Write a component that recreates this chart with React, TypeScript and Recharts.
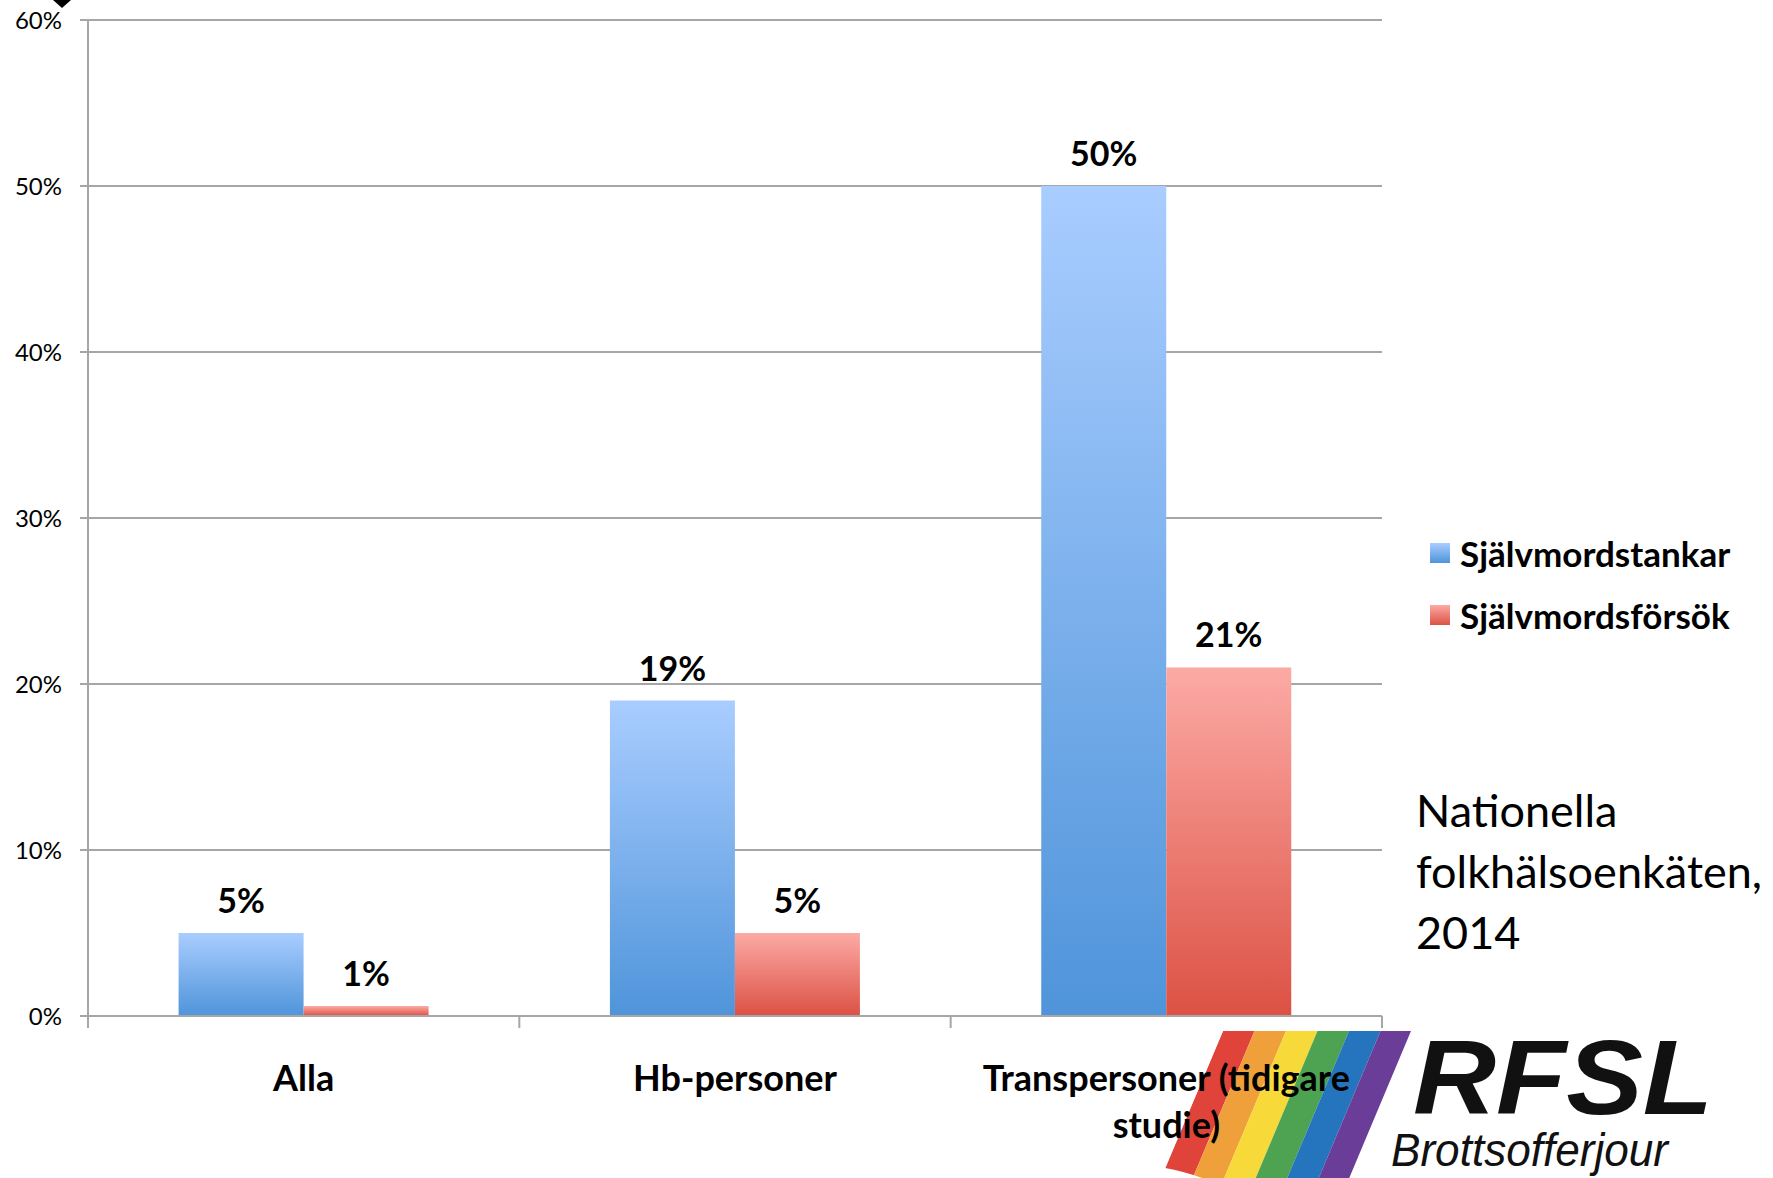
import React from 'react';
import { BarChart, Bar, XAxis, YAxis, CartesianGrid, LabelList } from 'recharts';

const categories = ['Alla', 'Hb-personer', 'Transpersoner (tidigare studie)'];
const tankar = [5, 19, 50];
const forsok = [0.6, 5, 21];
const yTicks = [0, 10, 20, 30, 40, 50, 60];
const seriesNames = ['Självmordstankar', 'Självmordsförsök'];
const sourceLines = ['Nationella', 'folkhälsoenkäten,', '2014'];

const data = categories.map((c, i) => ({ name: c, tankar: tankar[i], forsok: forsok[i] }));

const W = 1773;
const H = 1178;
const PLOT_LEFT = 88;
const PLOT_RIGHT = 1382;
const BAND = (PLOT_RIGHT - PLOT_LEFT) / categories.length;
const GRAY = '#a6a6a6';
const FONT = 'Lato, "Open Sans", sans-serif';

// wrap a category name into lines of at most n characters
const wrap = (s: string, n: number) => {
  const lines: string[] = [];
  let cur = '';
  s.split(' ').forEach(w => {
    if (cur && (cur + ' ' + w).length > n) {
      lines.push(cur);
      cur = w;
    } else cur = cur ? cur + ' ' + w : w;
  });
  if (cur) lines.push(cur);
  return lines;
};

const CategoryTick = (props: any) => {
  const { x, y, payload, index } = props;
  const lines = wrap(String(payload.value), 24);
  return (
    <g>
      <line x1={x - BAND / 2} x2={x - BAND / 2} y1={y} y2={y + 12} stroke={GRAY} strokeWidth={2} />
      {index === categories.length - 1 && (
        <line x1={x + BAND / 2} x2={x + BAND / 2} y1={y} y2={y + 12} stroke={GRAY} strokeWidth={2} />
      )}
      <text textAnchor="middle" fontFamily={FONT} fontWeight="bold" fontSize={36} fill="#000">
        {lines.map((l, i) => (
          <tspan key={i} x={x} y={y + 75 + i * 47}>{l}</tspan>
        ))}
      </text>
    </g>
  );
};

const ChartLegend = () => (
  <div style={{ position: 'absolute', left: 1430, top: 522, fontFamily: FONT, fontWeight: 'bold', fontSize: 35, color: '#000', whiteSpace: 'nowrap' }}>
    {seriesNames.map((n, i) => (
      <div key={n} style={{ display: 'flex', alignItems: 'center', height: 62 }}>
        <svg width={20} height={20} style={{ marginRight: 10 }}>
          <rect width={20} height={20} fill={i === 0 ? 'url(#gradBlue)' : 'url(#gradRed)'} />
        </svg>
        <span>{n}</span>
      </div>
    ))}
  </div>
);

const Logo = () => {
  const colors = ['#e0433a', '#f0a03a', '#f8d93a', '#4da352', '#2474be', '#6a3e98'];
  const x0 = 1223;
  const top = 1031;
  const w = 31.5;
  const slant = 71;
  return (
    <svg width={W} height={H} style={{ position: 'absolute', left: 0, top: 0 }}>
      <defs>
        <clipPath id="flagClip">
          <path d="M 1223 1031 L 1411 1031 L 1340 1200 L 1250 1200 Q 1205 1175 1165 1168 Z" />
        </clipPath>
      </defs>
      <g clipPath="url(#flagClip)">
        {colors.map((c, i) => (
          <polygon
            key={c}
            fill={c}
            points={`${x0 + i * w},${top} ${x0 + (i + 1) * w},${top} ${x0 + (i + 1) * w - slant},1200 ${x0 + i * w - slant},1200`}
          />
        ))}
      </g>
      <text x={1413} y={1114} fontFamily='"Liberation Sans", Arial, sans-serif' fontStyle="italic" fontWeight="bold"
        fontSize={105} textLength={300} lengthAdjust="spacingAndGlyphs" fill="#111">RFSL</text>
      <text x={1391} y={1166} fontFamily='"Liberation Sans", Arial, sans-serif' fontStyle="italic"
        fontSize={46} textLength={277} lengthAdjust="spacingAndGlyphs" fill="#111">Brottsofferjour</text>
      <polygon points="53,0 71,0 62,8" fill="#000" />
    </svg>
  );
};

export default function App() {
  return (
    <div style={{ position: 'absolute', left: 0, top: 0, width: W, height: H, background: '#fff', fontFamily: FONT, overflow: 'hidden' }}>
      <Logo />
      <div style={{ position: 'absolute', left: 0, top: 0 }}>
        <BarChart width={W} height={H} data={data} margin={{ top: 20, right: W - PLOT_RIGHT, left: 0, bottom: 0 }}
          barCategoryGap="21%" barGap={0}>
          <defs>
            <linearGradient id="gradBlue" x1="0" y1="0" x2="0" y2="1">
              <stop offset="0%" stopColor="#a9cdff" />
              <stop offset="100%" stopColor="#4f94da" />
            </linearGradient>
            <linearGradient id="gradRed" x1="0" y1="0" x2="0" y2="1">
              <stop offset="0%" stopColor="#fcaaa5" />
              <stop offset="100%" stopColor="#dc5144" />
            </linearGradient>
          </defs>
          <CartesianGrid horizontal vertical={false} stroke={GRAY} strokeWidth={2} />
          <XAxis dataKey="name" height={162} interval={0} tickLine={false} tickSize={0} tickMargin={0}
            axisLine={{ stroke: GRAY, strokeWidth: 2 }} tick={<CategoryTick />} />
          <YAxis width={PLOT_LEFT} domain={[0, 60]} ticks={yTicks} interval={0} tickFormatter={v => `${v}%`}
            axisLine={{ stroke: GRAY, strokeWidth: 2 }} tickLine={{ stroke: GRAY, strokeWidth: 2 }} tickSize={8} tickMargin={18}
            tick={{ fontSize: 24, fill: '#000', fontFamily: FONT }} />
          <Bar dataKey="tankar" name={seriesNames[0]} fill="url(#gradBlue)" isAnimationActive={false}>
            <LabelList dataKey="tankar" position="top" offset={20} formatter={(v: any) => `${Math.round(v)}%`}
              style={{ fontSize: 34, fontWeight: 'bold', fill: '#000', fontFamily: FONT }} />
          </Bar>
          <Bar dataKey="forsok" name={seriesNames[1]} fill="url(#gradRed)" isAnimationActive={false}>
            <LabelList dataKey="forsok" position="top" offset={20} formatter={(v: any) => `${Math.round(v)}%`}
              style={{ fontSize: 34, fontWeight: 'bold', fill: '#000', fontFamily: FONT }} />
          </Bar>
        </BarChart>
      </div>
      <ChartLegend />
      <div style={{ position: 'absolute', left: 1416, top: 780, fontSize: 45, lineHeight: '61px', color: '#000', whiteSpace: 'nowrap' }}>
        {sourceLines.map(l => <div key={l}>{l}</div>)}
      </div>
    </div>
  );
}
